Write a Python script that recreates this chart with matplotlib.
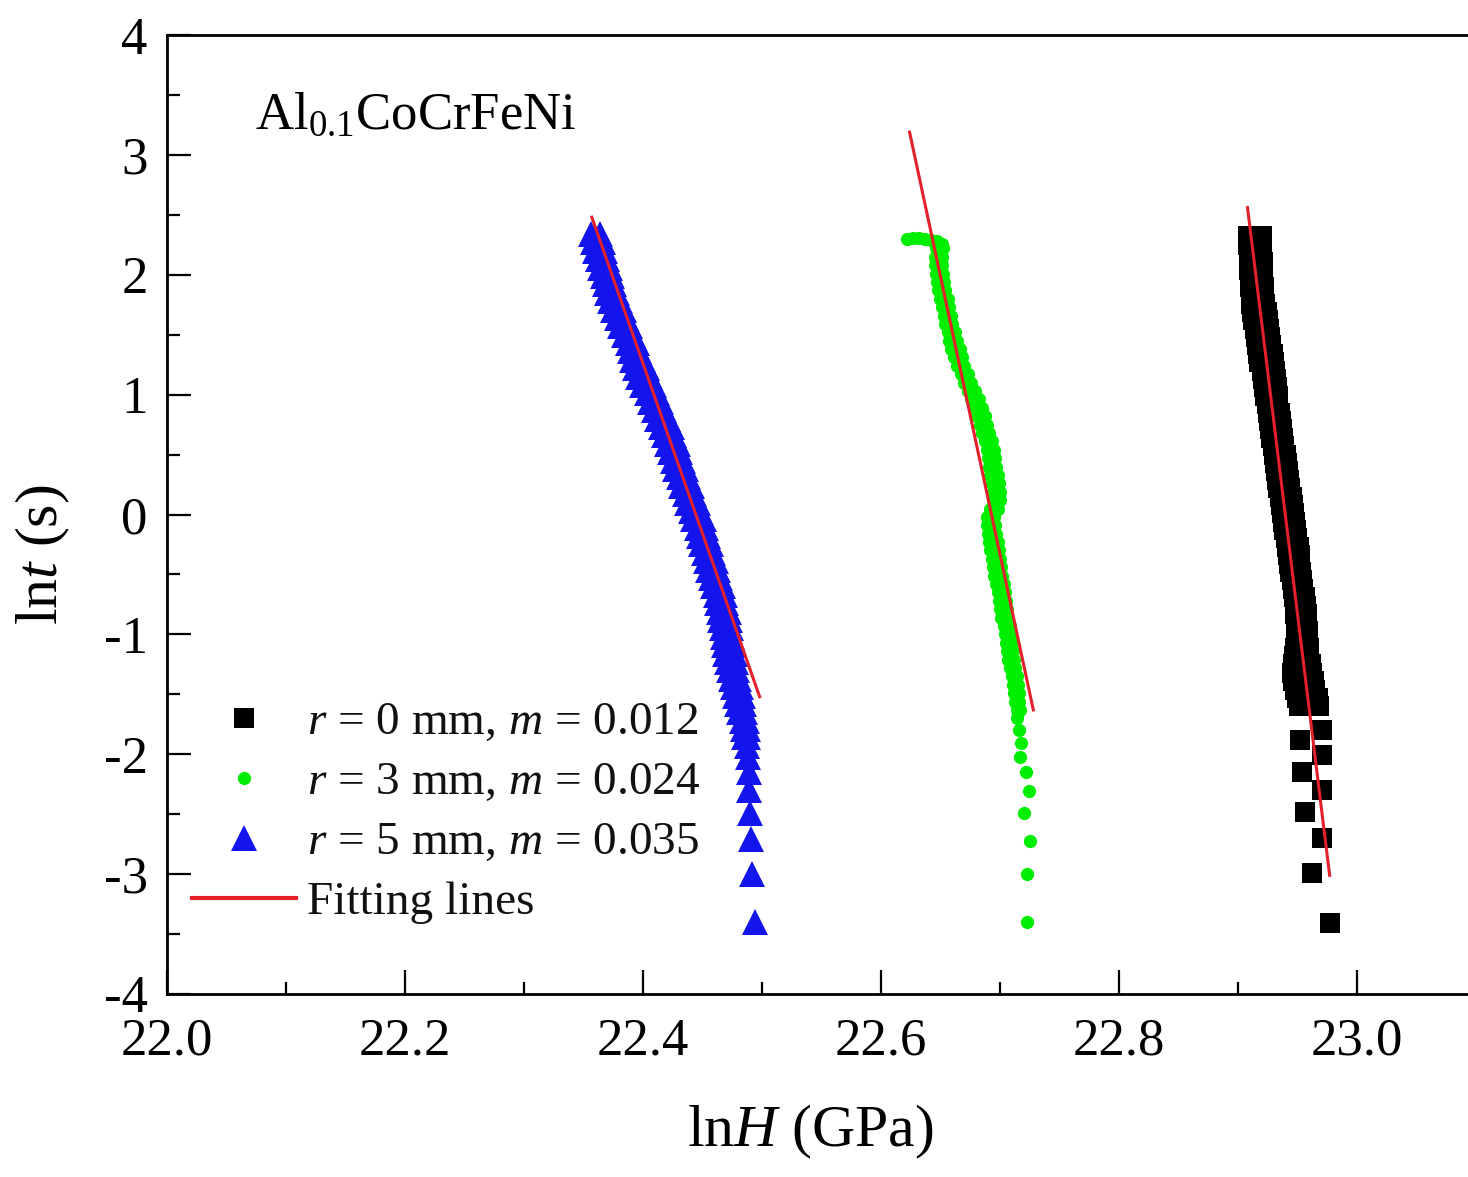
import matplotlib
matplotlib.use("Agg")
import matplotlib.pyplot as plt
from matplotlib.ticker import MultipleLocator, FormatStrFormatter

plt.rcParams['font.family'] = ['Liberation Serif', 'DejaVu Serif']
plt.rcParams['mathtext.fontset'] = 'custom'
plt.rcParams['mathtext.rm'] = 'Liberation Serif'
plt.rcParams['mathtext.it'] = 'Liberation Serif:italic'
plt.rcParams['axes.unicode_minus'] = False

# ---------------- data ----------------
# r = 5 mm (blue triangles): dense band rows (lnt, left edge lnH, right edge lnH)
blue_band_lnt = [2.34, 2.27, 2.20, 2.13, 2.06, 1.99, 1.92, 1.85, 1.78, 1.71,
                 1.64, 1.57, 1.50, 1.43, 1.36, 1.29, 1.22, 1.15, 1.08, 1.01,
                 0.94, 0.87, 0.80, 0.73, 0.66, 0.59, 0.52, 0.45, 0.38, 0.31,
                 0.24, 0.17, 0.10, 0.03, -0.04, -0.11, -0.18, -0.25, -0.32, -0.39,
                 -0.46, -0.53, -0.60, -0.67, -0.74, -0.81, -0.88, -0.95, -1.02, -1.09,
                 -1.16, -1.23, -1.30, -1.37, -1.44, -1.51, -1.58, -1.65, -1.72, -1.79,
                 -1.86]
blue_band_left = [22.356, 22.358, 22.360, 22.362, 22.364, 22.366, 22.368, 22.370, 22.372, 22.375,
                  22.378, 22.381, 22.384, 22.387, 22.389, 22.391, 22.393, 22.396, 22.399, 22.403,
                  22.406, 22.409, 22.412, 22.415, 22.418, 22.420, 22.423, 22.425, 22.427, 22.430,
                  22.432, 22.435, 22.437, 22.440, 22.442, 22.445, 22.447, 22.449, 22.451, 22.453,
                  22.455, 22.457, 22.459, 22.461, 22.462, 22.464, 22.465, 22.466, 22.467, 22.468,
                  22.469, 22.471, 22.472, 22.474, 22.476, 22.477, 22.479, 22.481, 22.483, 22.484,
                  22.485]
blue_band_right = [22.364, 22.366, 22.368, 22.370, 22.372, 22.374, 22.376, 22.378, 22.381, 22.384,
                   22.386, 22.389, 22.392, 22.395, 22.397, 22.400, 22.403, 22.406, 22.409, 22.412,
                   22.415, 22.418, 22.421, 22.424, 22.426, 22.429, 22.431, 22.434, 22.436, 22.438,
                   22.441, 22.443, 22.446, 22.448, 22.451, 22.453, 22.455, 22.457, 22.459, 22.461,
                   22.463, 22.465, 22.467, 22.469, 22.470, 22.472, 22.473, 22.474, 22.475, 22.476,
                   22.477, 22.478, 22.479, 22.481, 22.482, 22.484, 22.485, 22.486, 22.487, 22.488,
                   22.488]
blue_tail_lnt = [-1.93, -2.02, -2.15, -2.30, -2.49, -2.71, -3.00, -3.40]
blue_tail_lnH = [22.487, 22.488, 22.489, 22.489, 22.490, 22.491, 22.492, 22.494]

# r = 3 mm (green dots)
green_top_lnt = [2.30, 2.31, 2.31, 2.30, 2.29, 2.28, 2.26]
green_top_lnH = [22.622, 22.627, 22.632, 22.637, 22.642, 22.647, 22.651]
green_band_lnt = [2.22, 2.15, 2.08, 2.01, 1.94, 1.87, 1.80, 1.73, 1.66, 1.59,
                  1.52, 1.45, 1.38, 1.31, 1.24, 1.17, 1.10, 1.03, 0.96, 0.89,
                  0.82, 0.75, 0.68, 0.61, 0.54, 0.47, 0.40, 0.33, 0.26, 0.19,
                  0.12, 0.05, -0.02, -0.09, -0.16, -0.23, -0.30, -0.37, -0.44, -0.51,
                  -0.58, -0.65, -0.72, -0.79, -0.86, -0.93, -1.00, -1.07, -1.14, -1.21,
                  -1.28, -1.35, -1.42, -1.49, -1.56, -1.63]
green_band_left = [22.646, 22.645, 22.645, 22.646, 22.647, 22.648, 22.650, 22.651, 22.653, 22.654,
                   22.656, 22.657, 22.659, 22.661, 22.664, 22.667, 22.670, 22.673, 22.676, 22.679,
                   22.681, 22.683, 22.685, 22.687, 22.689, 22.690, 22.691, 22.692, 22.693, 22.694,
                   22.694, 22.692, 22.689, 22.689, 22.690, 22.691, 22.692, 22.693, 22.694, 22.695,
                   22.697, 22.698, 22.699, 22.700, 22.701, 22.703, 22.704, 22.705, 22.706, 22.707,
                   22.708, 22.710, 22.711, 22.712, 22.713, 22.714]
green_band_right = [22.652, 22.651, 22.651, 22.652, 22.653, 22.654, 22.656, 22.657, 22.659, 22.660,
                    22.662, 22.664, 22.666, 22.668, 22.670, 22.673, 22.676, 22.679, 22.682, 22.685,
                    22.687, 22.689, 22.691, 22.693, 22.695, 22.696, 22.697, 22.698, 22.699, 22.700,
                    22.700, 22.698, 22.695, 22.696, 22.697, 22.698, 22.699, 22.700, 22.701, 22.702,
                    22.703, 22.704, 22.705, 22.706, 22.707, 22.708, 22.709, 22.710, 22.711, 22.712,
                    22.713, 22.714, 22.715, 22.716, 22.716, 22.717]
green_tail_lnt = [-1.70, -1.80, -1.91, -2.02, -2.15, -2.31, -2.49, -2.72, -3.00, -3.40]
green_tail_lnH = [22.714, 22.716, 22.718, 22.717, 22.722, 22.724, 22.720, 22.725, 22.723, 22.723]

# r = 0 mm (black squares)
black_band_lnt = [2.32, 2.25, 2.18, 2.11, 2.04, 1.97, 1.90, 1.83, 1.76, 1.69,
                  1.62, 1.55, 1.48, 1.41, 1.34, 1.27, 1.20, 1.13, 1.06, 0.99,
                  0.92, 0.85, 0.78, 0.71, 0.64, 0.57, 0.50, 0.43, 0.36, 0.29,
                  0.22, 0.15, 0.08, 0.01, -0.06, -0.13, -0.20, -0.27, -0.34, -0.41,
                  -0.48, -0.55, -0.62, -0.69, -0.76, -0.83, -0.90, -0.97, -1.04, -1.11,
                  -1.18, -1.25, -1.32, -1.39, -1.46, -1.53, -1.60]
black_band_left = [22.908, 22.908, 22.909, 22.909, 22.909, 22.910, 22.910, 22.911, 22.911, 22.912,
                   22.913, 22.914, 22.915, 22.916, 22.917, 22.918, 22.920, 22.921, 22.922, 22.923,
                   22.924, 22.925, 22.926, 22.927, 22.928, 22.929, 22.930, 22.931, 22.932, 22.933,
                   22.934, 22.935, 22.936, 22.937, 22.938, 22.939, 22.940, 22.941, 22.942, 22.943,
                   22.944, 22.945, 22.946, 22.947, 22.948, 22.948, 22.949, 22.949, 22.949, 22.948,
                   22.947, 22.946, 22.945, 22.946, 22.948, 22.950, 22.951]
black_band_right = [22.920, 22.920, 22.920, 22.921, 22.921, 22.921, 22.922, 22.922, 22.923, 22.924,
                    22.925, 22.926, 22.927, 22.928, 22.929, 22.930, 22.931, 22.932, 22.933, 22.934,
                    22.934, 22.935, 22.936, 22.937, 22.938, 22.939, 22.940, 22.941, 22.942, 22.943,
                    22.944, 22.945, 22.946, 22.947, 22.948, 22.949, 22.950, 22.951, 22.952, 22.952,
                    22.953, 22.954, 22.955, 22.956, 22.957, 22.958, 22.958, 22.959, 22.959, 22.960,
                    22.960, 22.961, 22.962, 22.964, 22.965, 22.967, 22.968]
black_tail_lnt = [-1.80, -1.88, -2.01, -2.15, -2.30, -2.48, -2.70, -2.99, -3.41]
black_tail_lnH = [22.971, 22.952, 22.971, 22.954, 22.971, 22.956, 22.971, 22.962, 22.977]

# fitting lines (end points)
fit_blue_lnH = [22.357, 22.498]
fit_blue_lnt = [2.48, -1.52]
fit_green_lnH = [22.624, 22.728]
fit_green_lnt = [3.19, -1.63]
fit_black_lnH = [22.908, 22.977]
fit_black_lnt = [2.56, -3.01]

labels = [r'$r$ = 0 mm, $m$ = 0.012',
          r'$r$ = 3 mm, $m$ = 0.024',
          r'$r$ = 5 mm, $m$ = 0.035',
          'Fitting lines']

# ---------------- figure ----------------
W, H = 1468, 1177
fig = plt.figure(figsize=(W / 100, H / 100), dpi=100)
ax = fig.add_axes([167 / W, 183 / H, 1309 / W, 959 / H])

red = '#e3202c'
blk_x = black_band_left + black_band_right + black_tail_lnH
blk_y = black_band_lnt + black_band_lnt + black_tail_lnt
grn_x = green_top_lnH + green_band_left + green_band_right + green_tail_lnH
grn_y = green_top_lnt + green_band_lnt + green_band_lnt + green_tail_lnt
blu_x = blue_band_left + blue_band_right + blue_tail_lnH
blu_y = blue_band_lnt + blue_band_lnt + blue_tail_lnt

hb, = ax.plot(blk_x, blk_y, 's', color='black', ms=14, mew=0, linestyle='none', zorder=2)
hg, = ax.plot(grn_x, grn_y, 'o', color='#00ee00', ms=9.5, mew=0, linestyle='none', zorder=2)
ht, = ax.plot(blu_x, blu_y, '^', color='#1414ec', ms=19, mew=0, linestyle='none', zorder=2)
hr, = ax.plot(fit_blue_lnH, fit_blue_lnt, '-', color=red, lw=2.2, zorder=3)
ax.plot(fit_green_lnH, fit_green_lnt, '-', color=red, lw=2.2, zorder=3)
ax.plot(fit_black_lnH, fit_black_lnt, '-', color=red, lw=2.2, zorder=3)

ax.set_xlim(22.0, 23.1)
ax.set_ylim(-4, 4)
ax.xaxis.set_major_locator(MultipleLocator(0.2))
ax.xaxis.set_minor_locator(MultipleLocator(0.1))
ax.yaxis.set_major_locator(MultipleLocator(1))
ax.yaxis.set_minor_locator(MultipleLocator(0.5))
ax.xaxis.set_major_formatter(FormatStrFormatter('%.1f'))
ax.tick_params(which='both', direction='in', top=False, right=False, labelsize=38, width=1.6)
ax.tick_params(which='major', length=17)
ax.tick_params(which='minor', length=9)
ax.tick_params(axis='x', pad=17)
ax.tick_params(axis='y', pad=14)
for s in ax.spines.values():
    s.set_linewidth(2.0)

ax.set_xlabel(r'ln$H$ (GPa)', fontsize=43)
ax.xaxis.set_label_coords((810 - 167) / 1309, -(1103 - 994) / 959)
ax.set_ylabel(r'ln$t$ (s)', fontsize=43)
ax.yaxis.set_label_coords((72 - 167) / 1309, (994 - 555) / 959)

ax.text(22.074, 3.22, r'Al$_{0.1}$CoCrFeNi', fontsize=38, ha='left', va='baseline')

leg = ax.legend([hb, hg, ht, hr], labels, loc='upper left',
                bbox_to_anchor=(0.005, 0.325), frameon=False, fontsize=34,
                handlelength=2.2, handletextpad=0.22, labelspacing=0.36,
                borderaxespad=0.0, numpoints=1)
leg.get_lines()[3].set_linewidth(3.0)
for t in leg.get_texts():
    t.set_color('#111111')

fig.savefig('out.png', dpi=100)
